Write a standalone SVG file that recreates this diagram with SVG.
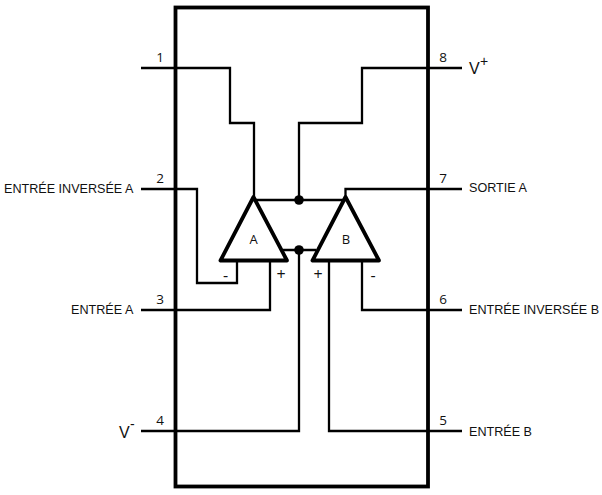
<svg xmlns="http://www.w3.org/2000/svg" width="602" height="495" viewBox="0 0 602 495">
<style>
text{font-family:"Liberation Sans",Arial,sans-serif;fill:#111}
.l{font-size:12.600px}
.n{font-family:"Open Sans","Noto Sans",sans-serif;font-size:13.500px;fill:#111;text-anchor:middle}
.w{fill:none;stroke:#000;stroke-width:2.300;stroke-linejoin:miter}
.t{fill:#fff;stroke:#000;stroke-width:3.800;stroke-linejoin:round}
.s{font-family:"Open Sans","Noto Sans",sans-serif;font-size:16px;text-anchor:middle}
.c{font-family:"Open Sans","Noto Sans",sans-serif;font-size:13px;text-anchor:middle}
</style>
<rect width="602" height="495" fill="#fff"/>
<g id="boitier"><rect x="175.500" y="7.500" width="252.500" height="479" fill="none" stroke="#000" stroke-width="3.800"/></g>
<g id="connecteurs">
<path class="w" d="M141 68H230V123H254V196"/>
<path class="w" d="M462 68H362V123H299V200"/>
<path class="w" d="M254 200H345"/>
<path class="w" d="M141 189H197V283H237V261"/>
<path class="w" d="M141 310H270V261"/>
<path class="w" d="M462 189H345.500V197"/>
<path class="w" d="M462 310H362V261"/>
<path class="w" d="M462 431H329V261"/>
<path class="w" d="M141 431H299V250"/>
<path class="w" d="M283 250H316"/>
</g>
<g id="jonctions"><circle cx="299" cy="200" r="4.800"/><circle cx="299" cy="250" r="4.800"/></g>
<g id="ampli-a"><path class="t" d="M253.500 197L220.500 260.500H287Z"/><text class="c" x="253.500" y="244">A</text>
<text class="s" x="225.500" y="281">-</text><text class="s" x="281" y="280">+</text></g>
<g id="ampli-b"><path class="t" d="M345.500 197L312.500 260.500H379Z"/><text class="c" x="346" y="244">B</text>
<text class="s" x="318" y="280">+</text><text class="s" x="373" y="281">-</text></g>
<g id="broche-1"><text class="n" x="160" y="62">1</text></g>
<g id="broche-2"><text class="n" x="160" y="183">2</text><text class="l" x="4" y="193">ENTRÉE INVERSÉE A</text></g>
<g id="broche-3"><text class="n" x="160" y="304">3</text><text class="l" x="71" y="314">ENTRÉE A</text></g>
<g id="broche-4"><text class="n" x="160" y="425">4</text><text x="119" y="438" font-size="16">V</text><text x="130" y="429" font-size="14">-</text></g>
<g id="broche-5"><text class="n" x="443" y="425">5</text><text class="l" x="469" y="436">ENTRÉE B</text></g>
<g id="broche-6"><text class="n" x="443" y="304">6</text><text class="l" x="469" y="314">ENTRÉE INVERSÉE B</text></g>
<g id="broche-7"><text class="n" x="443" y="183">7</text><text class="l" x="469" y="192">SORTIE A</text></g>
<g id="broche-8"><text class="n" x="443" y="62">8</text><text x="469" y="74" font-size="16">V</text><text x="480" y="66" font-size="14">+</text></g>
</svg>
